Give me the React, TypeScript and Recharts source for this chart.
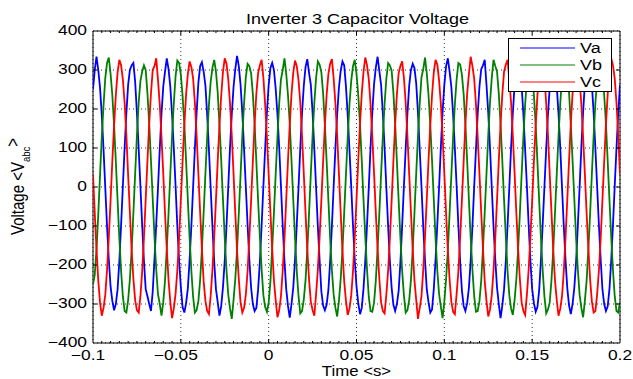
import React from "react";
import {
  LineChart,
  Line,
  XAxis,
  YAxis,
  CartesianGrid,
  ReferenceArea,
  ReferenceLine,
  Legend,
} from "recharts";

// Sampling grid (seconds)
const T_START = -0.1;
const T_STEP = 0.001;

// Phase voltages (V), one sample per ms from -0.1 s to 0.2 s
const VA = [
  250, 300,
  334, 300, 255, 185, 96, -3, -101, -186, -255, -292, -316, -300, -262, -190, -97, 2, 100, 190, 262, 300,
  312, 318, 270, 190, 98, 1, -98, -190, -262, -280, -300, -318, -268, -185, -95, -2, 97, 188, 258, 296,
  330, 302, 258, 186, 100, 3, -100, -188, -256, -308, -322, -298, -260, -186, -99, 0, 99, 192, 268, 310,
  320, 296, 260, 184, 95, -4, -102, -192, -262, -296, -330, -305, -256, -188, -100, 1, 101, 186, 256, 302,
  336, 310, 262, 190, 97, 0, -97, -186, -258, -300, -318, -310, -262, -192, -98, 3, 98, 190, 262, 305,
  318, 300, 252, 186, 101, 2, -99, -190, -262, -305, -335, -300, -258, -186, -96, -1, 100, 189, 260, 308,
  328, 292, 262, 190, 97, -2, -101, -188, -268, -304, -316, -302, -264, -190, -100, 2, 99, 186, 255, 298,
  322, 312, 258, 184, 96, 1, -98, -186, -255, -298, -326, -310, -260, -188, -97, 0, 102, 191, 264, 306,
  334, 298, 262, 188, 99, -3, -100, -190, -258, -302, -318, -300, -266, -192, -99, 3, 98, 188, 260, 300,
  316, 305, 265, 190, 95, 0, -102, -188, -262, -296, -322, -314, -262, -186, -96, -2, 100, 192, 262, 310,
  330, 296, 256, 185, 98, 2, -99, -192, -265, -305, -318, -298, -258, -188, -100, 1, 97, 188, 258, 302,
  312, 326, 262, 190, 100, -1, -101, -186, -258, -300, -336, -304, -262, -190, -98, 0, 101, 190, 262, 306,
  322, 300, 260, 186, 96, 3, -97, -190, -262, -298, -320, -308, -264, -186, -95, 2, 99, 186, 256, 298,
  334, 304, 258, 188, 99, -2, -100, -188, -260, -304, -326, -300, -258, -192, -99, -1, 102, 192, 265, 308,
  318, 302, 262, 190, 97, 0, -98, -186, -262, -300, -318, -306, -262, -188, -97, 3, 100, 190, 262,
];

const VB = [
  -250, -225,
  -160, -70, 30, 128, 210, 280, 318, 332, 290, 236, 158, 65, -35, -132, -216, -280, -318, -322, -290, -236,
  -162, -66, 34, 132, 216, 272, 296, 312, 300, 240, 162, 68, -30, -128, -212, -275, -300, -330, -296, -240,
  -158, -68, 32, 130, 214, 284, 324, 318, 288, 234, 160, 66, -34, -130, -216, -282, -322, -316, -292, -238,
  -160, -64, 35, 128, 212, 270, 306, 326, 296, 242, 158, 67, -33, -132, -214, -276, -312, -338, -290, -236,
  -162, -68, 31, 131, 215, 282, 316, 310, 292, 238, 160, 64, -36, -128, -212, -278, -308, -320, -296, -242,
  -158, -66, 33, 129, 214, 276, 300, 330, 290, 236, 162, 68, -32, -130, -216, -280, -324, -318, -288, -238,
  -160, -67, 34, 132, 216, 280, 322, 314, 294, 240, 158, 66, -34, -132, -214, -276, -310, -332, -292, -236,
  -162, -65, 32, 128, 212, 272, 310, 326, 290, 236, 160, 67, -33, -128, -212, -282, -318, -320, -296, -240,
  -158, -68, 33, 130, 214, 278, 318, 312, 298, 242, 162, 65, -35, -130, -216, -278, -322, -316, -290, -238,
  -160, -66, 35, 131, 215, 282, 302, 332, 292, 236, 158, 68, -32, -132, -214, -274, -306, -336, -294, -236,
  -162, -67, 31, 129, 213, 276, 318, 314, 288, 238, 160, 66, -34, -130, -212, -280, -320, -318, -292, -240,
  -158, -64, 34, 132, 216, 280, 326, 310, 296, 240, 162, 67, -33, -128, -216, -278, -312, -328, -290, -236,
  -160, -68, 32, 128, 212, 274, 304, 322, 290, 236, 158, 64, -36, -132, -214, -282, -324, -314, -296, -238,
  -162, -66, 33, 130, 214, 282, 320, 316, 294, 242, 160, 68, -32, -130, -212, -276, -310, -334, -292, -240,
  -158, -67, 35, 131, 216, 278, 312, 326, 290, 236, 162, 66, -34, -128, -214, -280, -318, -322, -294,
];

const VC = [
  33, -67,
  -160, -240, -296, -330, -310, -276, -212, -128, -35, 66, 158, 236, 294, 326, 312, 276, 216, 132, 30, -65,
  -162, -236, -290, -316, -322, -280, -216, -130, -32, 68, 162, 240, 300, 310, 330, 274, 212, 128, 34, -68,
  -158, -238, -294, -336, -312, -274, -214, -132, -34, 65, 160, 238, 290, 322, 308, 278, 216, 130, 33, -66,
  -160, -242, -292, -318, -326, -278, -212, -128, -33, 67, 158, 236, 296, 330, 316, 276, 214, 132, 35, -67,
  -162, -236, -296, -322, -310, -276, -216, -130, -35, 66, 162, 240, 292, 312, 326, 280, 212, 128, 32, -65,
  -158, -240, -290, -334, -316, -280, -214, -132, -32, 68, 160, 238, 294, 324, 310, 274, 216, 130, 34, -68,
  -160, -238, -294, -316, -330, -274, -212, -128, -34, 65, 158, 236, 290, 316, 328, 278, 214, 132, 33, -66,
  -162, -242, -292, -328, -312, -278, -216, -130, -33, 67, 162, 240, 296, 332, 312, 276, 212, 128, 35, -67,
  -158, -236, -296, -318, -324, -276, -214, -132, -35, 66, 160, 238, 292, 310, 322, 280, 216, 130, 32, -65,
  -160, -240, -290, -338, -310, -280, -212, -128, -32, 68, 158, 236, 294, 326, 314, 274, 214, 132, 34, -68,
  -162, -238, -294, -320, -326, -274, -216, -130, -34, 65, 162, 240, 290, 334, 310, 278, 212, 128, 33, -66,
  -158, -242, -292, -332, -314, -278, -214, -132, -33, 67, 160, 238, 296, 314, 326, 276, 216, 130, 35, -67,
  -160, -236, -296, -318, -328, -276, -212, -128, -35, 66, 158, 236, 292, 328, 312, 280, 214, 132, 32, -65,
  -162, -240, -290, -330, -312, -280, -216, -130, -32, 68, 162, 240, 294, 316, 324, 274, 212, 128, 34, -68,
  -158, -238, -294, -322, -318, -274, -214, -132, -34, 65, 160, 238, 290, 330, 312, 278, 216, 130, 33,
];

const X_TICKS = [-0.1, -0.05, 0, 0.05, 0.1, 0.15, 0.2];
const Y_TICKS = [-400, -300, -200, -100, 0, 100, 200, 300, 400];
const X_MINOR_STEP = 0.005;

const SERIES = [
  { key: "va", name: "Va", color: "#0000ff" },
  { key: "vb", name: "Vb", color: "#008000" },
  { key: "vc", name: "Vc", color: "#ff0000" },
];

const TITLE = "Inverter 3 Capacitor Voltage";
const X_LABEL = "Time <s>";

// layout
const W = 633;
const H = 379;
const PLOT_LEFT = 93;
const PLOT_RIGHT = 620;
const PLOT_TOP = 31;
const PLOT_BOTTOM = 343;
const FONT = "'Liberation Sans', Arial, Helvetica, sans-serif";
const SX = 1.2; // horizontal text stretch seen in the reference
const TICK_FS = 14.5;

const X_MIN = X_TICKS[0];
const X_MAX = X_TICKS[X_TICKS.length - 1];
const Y_MIN = Y_TICKS[0];
const Y_MAX = Y_TICKS[Y_TICKS.length - 1];
const UNITS_PER_PX_Y = (Y_MAX - Y_MIN) / (PLOT_BOTTOM - PLOT_TOP);
const UNITS_PER_PX_X = (X_MAX - X_MIN) / (PLOT_RIGHT - PLOT_LEFT);

const data = VA.map((_, i) => ({
  t: Math.round((T_START + i * T_STEP) * 1e6) / 1e6,
  va: VA[i],
  vb: VB[i],
  vc: VC[i],
}));

const minorTicks: number[] = [];
for (let k = 1; k < Math.round((X_MAX - X_MIN) / X_MINOR_STEP); k++) {
  const v = Math.round((X_MIN + k * X_MINOR_STEP) * 1e6) / 1e6;
  if (!X_TICKS.some((m) => Math.abs(m - v) < 1e-9)) minorTicks.push(v);
}

const fmt = (v: number) => (v < 0 ? "\u2212" + String(Math.abs(v)) : String(v));

const XTick = (props: any) => {
  const { x, payload } = props;
  const v = payload.value as number;
  const cx = x + (v < 0 ? -5 : 0);
  return (
    <g transform={`translate(${cx},${PLOT_BOTTOM + 17})`}>
      <text textAnchor="middle" transform={`scale(${SX},1)`} fontSize={TICK_FS} fontFamily={FONT} fill="#000">
        {fmt(v)}
      </text>
    </g>
  );
};

const YTick = (props: any) => {
  const { y, payload } = props;
  const v = payload.value as number;
  return (
    <g transform={`translate(${PLOT_LEFT - 6},${y + 4})`}>
      <text textAnchor="end" transform={`scale(${SX},1)`} fontSize={TICK_FS} fontFamily={FONT} fill="#000">
        {fmt(v)}
      </text>
    </g>
  );
};

const LegendBox = () => (
  <svg width={104} height={54} style={{ display: "block", overflow: "visible" }}>
    <rect x={0.5} y={0.5} width={103} height={53} fill="#fff" stroke="#000" strokeWidth={1} />
    {SERIES.map((s, i) => {
      const cy = 10 + i * 17;
      return (
        <g key={s.key}>
          <line x1={12} x2={67} y1={cy} y2={cy} stroke={s.color} strokeWidth={1} />
          <g transform={`translate(72,${cy + 5})`}>
            <text transform={`scale(${SX},1)`} fontSize={15} fontFamily={FONT} fill="#000">
              {s.name}
            </text>
          </g>
        </g>
      );
    })}
  </svg>
);

export default function App() {
  const majLenY = 4 * UNITS_PER_PX_Y;
  const minorLenY = 2 * UNITS_PER_PX_Y;
  const majLenX = 4 * UNITS_PER_PX_X;
  return (
    <div style={{ position: "absolute", left: 0, top: 0, width: W, height: H, background: "#fff" }}>
      <LineChart width={W} height={H} data={data} margin={{ top: PLOT_TOP, right: W - PLOT_RIGHT, bottom: 0, left: 0 }}>
        <CartesianGrid stroke="#333" strokeDasharray="1 3" strokeWidth={1} />
        <XAxis
          type="number"
          dataKey="t"
          domain={[X_MIN, X_MAX]}
          ticks={X_TICKS}
          interval={0}
          height={H - PLOT_BOTTOM}
          axisLine={false}
          tickLine={false}
          tick={<XTick />}
          allowDataOverflow
        />
        <YAxis
          type="number"
          domain={[Y_MIN, Y_MAX]}
          ticks={Y_TICKS}
          interval={0}
          width={PLOT_LEFT}
          axisLine={false}
          tickLine={false}
          tick={<YTick />}
          allowDataOverflow
        />
        {SERIES.map((s) => (
          <Line
            key={s.key}
            type="linear"
            dataKey={s.key}
            name={s.name}
            stroke={s.color}
            strokeWidth={1.8}
            dot={false}
            activeDot={false}
            isAnimationActive={false}
          />
        ))}
        <ReferenceArea
          x1={X_MIN}
          x2={X_MAX}
          y1={Y_MIN}
          y2={Y_MAX}
          fill="none"
          fillOpacity={0}
          stroke="#000"
          strokeWidth={1}
          ifOverflow="visible"
        />
        {X_TICKS.slice(1, -1).map((v) => (
          <ReferenceLine key={"xb" + v} segment={[{ x: v, y: Y_MIN }, { x: v, y: Y_MIN + majLenY }]} stroke="#000" ifOverflow="visible" />
        ))}
        {X_TICKS.slice(1, -1).map((v) => (
          <ReferenceLine key={"xt" + v} segment={[{ x: v, y: Y_MAX }, { x: v, y: Y_MAX - majLenY }]} stroke="#000" ifOverflow="visible" />
        ))}
        {minorTicks.map((v) => (
          <ReferenceLine key={"mb" + v} segment={[{ x: v, y: Y_MIN }, { x: v, y: Y_MIN + minorLenY }]} stroke="#000" ifOverflow="visible" />
        ))}
        {minorTicks.map((v) => (
          <ReferenceLine key={"mt" + v} segment={[{ x: v, y: Y_MAX }, { x: v, y: Y_MAX - minorLenY }]} stroke="#000" ifOverflow="visible" />
        ))}
        {Y_TICKS.slice(1, -1).map((v) => (
          <ReferenceLine key={"yl" + v} segment={[{ x: X_MIN, y: v }, { x: X_MIN + majLenX, y: v }]} stroke="#000" ifOverflow="visible" />
        ))}
        {Y_TICKS.slice(1, -1).map((v) => (
          <ReferenceLine key={"yr" + v} segment={[{ x: X_MAX, y: v }, { x: X_MAX - majLenX, y: v }]} stroke="#000" ifOverflow="visible" />
        ))}
        <Legend
          layout="horizontal"
          verticalAlign="middle"
          align="center"
          content={<LegendBox />}
          wrapperStyle={{ position: "absolute", left: 508, top: 38, width: 104, height: 54, margin: 0, padding: 0 }}
        />
      </LineChart>
      <svg
        width={W}
        height={H}
        style={{ position: "absolute", left: 0, top: 0, pointerEvents: "none" }}
      >
        <g transform={`translate(${(PLOT_LEFT + PLOT_RIGHT) / 2 + 1},24)`}>
          <text textAnchor="middle" transform={`scale(${SX},1)`} fontSize={15} fontFamily={FONT} fill="#000">
            {TITLE}
          </text>
        </g>
        <g transform={`translate(${(PLOT_LEFT + PLOT_RIGHT) / 2},376)`}>
          <text textAnchor="middle" transform={`scale(${SX},1)`} fontSize={14} fontFamily={FONT} fill="#000">
            {X_LABEL}
          </text>
        </g>
        <g transform={`translate(24,235) scale(${SX},1) rotate(-90)`}>
          <text fontSize={15} fontFamily={FONT} fill="#000">
            <tspan>Voltage &lt;V</tspan>
            <tspan fontSize={9.5} dy={5}>abc</tspan>
            <tspan fontSize={15} dy={-9}>&gt;</tspan>
          </text>
        </g>
      </svg>
    </div>
  );
}
